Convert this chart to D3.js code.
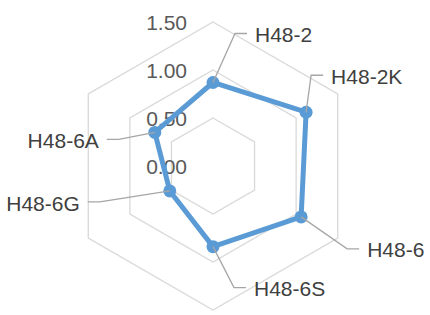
<!DOCTYPE html>
<html>
<head>
<meta charset="utf-8">
<script src="https://cdn.jsdelivr.net/npm/d3@7"></script>
<style>
  body { margin: 0; background: #fff; }
  svg text { font-family: "Liberation Sans", Arial, sans-serif; }
</style>
</head>
<body>
<div id="graphic"></div>
<script>
const categories = ["H48-2", "H48-2K", "H48-6", "H48-6S", "H48-6G", "H48-6A"];
const values = [0.87, 1.12, 1.06, 0.84, 0.52, 0.70];
const ticks = [0, 0.5, 1.0, 1.5];

// callout elbow offsets from each point (Excel-style data labels)
const calloutOffsets = [[22, -49], [5, -37], [46, 32], [21, 41], [-70, 11], [-36, 7]];

const width = 430, height = 315;
const cx = 213, cy = 166, radius = 144;

const svg = d3.select("#graphic")
    .append("svg")
    .attr("width", width)
    .attr("height", height);

const g = svg.append("g")
    .attr("transform", `translate(${cx},${cy})`);

const r = d3.scaleLinear()
    .domain([0, 1.5])
    .range([0, radius]);

const angle = d3.scalePoint()
    .domain(categories)
    .range([0, 2 * Math.PI * (categories.length - 1) / categories.length]);

const pos = (cat, v) => {
    const a = angle(cat);
    return [r(v) * Math.sin(a), -r(v) * Math.cos(a)];
}

// hexagon gridlines
g.append("g")
    .selectAll("path")
    .data(ticks.filter(t => t > 0))
    .join("path")
    .attr("d", t => d3.line()(categories.map(c => pos(c, t))) + "Z")
    .attr("fill", "none")
    .attr("stroke", "#d9d9d9")
    .attr("stroke-width", 1.3);

// tick labels
g.append("g")
    .selectAll("text")
    .data(ticks)
    .join("text")
    .attr("x", -26)
    .attr("y", t => -r(t))
    .attr("dy", "0.36em")
    .attr("text-anchor", "end")
    .attr("font-size", 21)
    .attr("fill", "#595959")
    .text(t => d3.format(".2f")(t));

// series line
const pts = categories.map((c, i) => pos(c, values[i]));
g.append("path")
    .attr("d", d3.line()(pts) + "Z")
    .attr("fill", "none")
    .attr("stroke", "#5b9bd5")
    .attr("stroke-width", 5)
    .attr("stroke-linejoin", "round");

g.append("g")
    .selectAll("circle")
    .data(pts)
    .join("circle")
    .attr("cx", d => d[0])
    .attr("cy", d => d[1])
    .attr("r", 6.5)
    .attr("fill", "#5b9bd5");

// callout labels
const labels = g.append("g")
    .selectAll("g")
    .data(categories)
    .join("g");

labels.append("path")
    .attr("d", (c, i) => {
        const p = pts[i], o = calloutOffsets[i];
        const ex = p[0] + o[0], ey = p[1] + o[1];
        const dir = o[0] >= 0 ? 1 : -1;
        return d3.line()([p, [ex, ey], [ex + dir * 12, ey]]);
    })
    .attr("fill", "none")
    .attr("stroke", "#a6a6a6")
    .attr("stroke-width", 1.3);

labels.append("text")
    .attr("x", (c, i) => pts[i][0] + calloutOffsets[i][0] + (calloutOffsets[i][0] >= 0 ? 20 : -20))
    .attr("y", (c, i) => pts[i][1] + calloutOffsets[i][1] + 1)
    .attr("dy", "0.36em")
    .attr("text-anchor", (c, i) => calloutOffsets[i][0] >= 0 ? "start" : "end")
    .attr("font-size", 21)
    .attr("fill", "#404040")
    .text(c => c);
</script>
</body>
</html>
